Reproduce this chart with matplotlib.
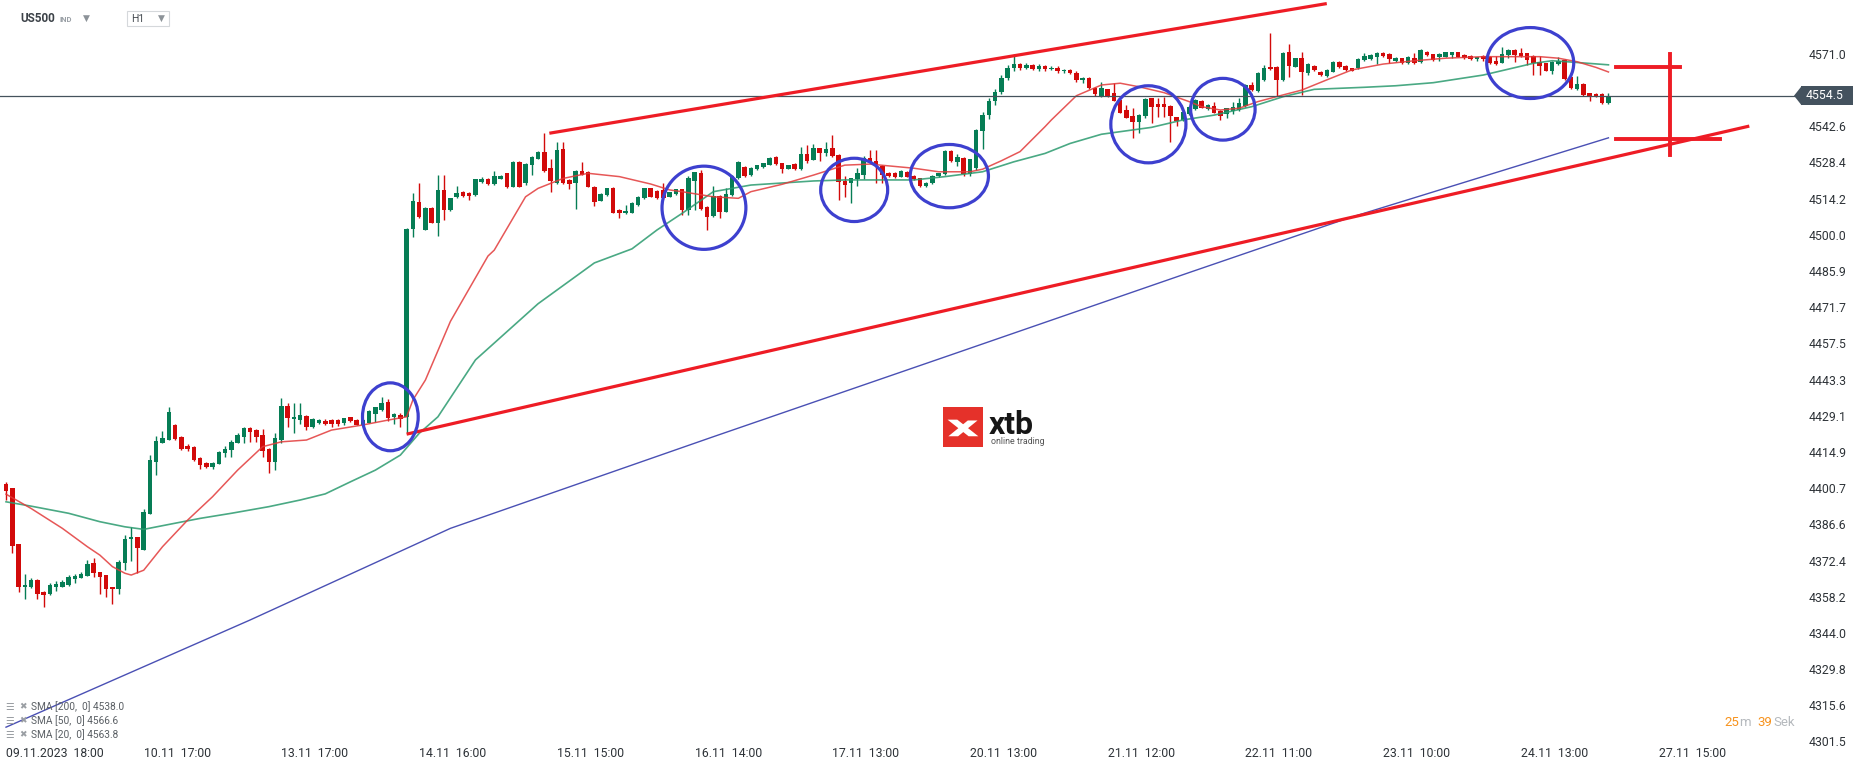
import numpy as np
import matplotlib
matplotlib.use("Agg")
import matplotlib.pyplot as plt
from matplotlib.patches import Ellipse, Rectangle, Polygon
from matplotlib.transforms import blended_transform_factory

plt.rcParams['font.family'] = ['Roboto', 'DejaVu Sans']

# hourly candles, index 0 = 09.11.2023 18:00
opens = [4402.3, 4400.8, 4378.8, 4361.9, 4362.1, 4364.7, 4360.0, 4359.4, 4362.1, 4362.1,
         4362.9, 4365.2, 4365.5, 4366.3, 4371.4, 4367.9, 4366.7, 4362.0, 4361.3, 4371.5,
         4380.7, 4381.5, 4376.5, 4390.6, 4411.1, 4418.3, 4419.6, 4425.5, 4420.8, 4417.2,
         4417.0, 4412.5, 4410.7, 4408.9, 4410.1, 4414.6, 4415.7, 4418.5, 4420.9, 4424.3,
         4423.5, 4421.4, 4416.1, 4411.1, 4419.6, 4432.9, 4427.7, 4427.4, 4429.0, 4424.6,
         4426.4, 4427.2, 4427.4, 4427.4, 4426.2, 4428.5, 4427.4, 4425.6, 4426.4, 4429.9,
         4431.3, 4434.5, 4428.5, 4429.6, 4428.5, 4502.1, 4512.9, 4502.0, 4510.5, 4504.8,
         4517.6, 4509.7, 4515.0, 4516.8, 4516.5, 4515.6, 4520.8, 4522.0, 4519.8, 4522.0,
         4524.1, 4518.9, 4528.5, 4520.2, 4527.2, 4529.9, 4532.4, 4526.3, 4520.2, 4533.6,
         4521.5, 4520.2, 4524.9, 4524.6, 4518.9, 4513.4, 4515.6, 4518.3, 4509.7, 4508.4,
         4508.7, 4511.7, 4514.3, 4518.2, 4517.2, 4517.6, 4515.0, 4516.0, 4517.8, 4509.7,
         4521.2, 4524.2, 4510.8, 4507.4, 4515.2, 4509.1, 4515.5, 4522.1, 4526.7, 4523.3,
         4525.6, 4526.4, 4527.5, 4530.6, 4528.0, 4525.9, 4527.7, 4525.9, 4531.7, 4529.3,
         4533.9, 4531.9, 4533.9, 4531.3, 4521.2, 4520.4, 4521.7, 4523.4, 4530.0, 4529.0,
         4527.0, 4524.3, 4524.3, 4522.8, 4524.7, 4523.2, 4522.1, 4519.2, 4520.4, 4522.9,
         4523.8, 4532.8, 4528.5, 4530.0, 4523.8, 4526.0, 4540.5, 4547.0, 4552.5, 4556.0,
         4561.5, 4565.5, 4567.0, 4565.5, 4566.5, 4565.0, 4566.0, 4565.0, 4565.5, 4564.0,
         4564.5, 4563.5, 4560.5, 4561.5, 4557.5, 4554.4, 4557.0, 4555.7, 4552.8, 4548.9,
         4546.5, 4544.3, 4546.5, 4553.5, 4551.2, 4551.2, 4550.5, 4546.0, 4545.0, 4547.3,
         4549.3, 4552.4, 4549.3, 4550.5, 4548.5, 4547.3, 4548.6, 4548.9, 4550.5, 4558.6,
         4556.3, 4560.7, 4565.6, 4565.6, 4560.7, 4571.8, 4565.9, 4569.1, 4563.3, 4566.1,
         4563.9, 4562.2, 4563.9, 4567.8, 4566.1, 4565.2, 4565.2, 4568.5, 4568.9, 4569.8,
         4571.4, 4570.8, 4568.1, 4569.1, 4567.2, 4569.3, 4567.8, 4571.8, 4570.8, 4569.8,
         4569.8, 4570.5, 4571.5, 4570.5, 4570.1, 4568.8, 4570.1, 4569.8, 4568.2, 4567.5,
         4570.5, 4572.4, 4571.4, 4571.1, 4570.1, 4567.8, 4567.2, 4564.0, 4566.9, 4568.5,
         4562.0, 4557.0, 4559.1, 4555.4, 4555.2, 4555.2, 4551.5]
highs = [4403.1, 4400.8, 4378.8, 4367.1, 4365.7, 4365.0, 4360.3, 4363.5, 4364.2, 4364.6,
         4366.6, 4367.1, 4367.9, 4372.6, 4373.3, 4367.9, 4366.7, 4362.0, 4372.6, 4382.2,
         4385.4, 4381.5, 4392.4, 4413.7, 4421.2, 4423.1, 4432.4, 4426.0, 4421.0, 4418.0,
         4417.2, 4412.8, 4411.0, 4410.9, 4415.4, 4417.2, 4419.6, 4422.4, 4424.8, 4424.6,
         4423.8, 4423.8, 4416.5, 4422.4, 4435.9, 4434.0, 4434.0, 4434.0, 4429.3, 4428.1,
         4427.8, 4427.7, 4427.9, 4427.7, 4428.4, 4428.8, 4427.7, 4427.7, 4431.3, 4432.7,
         4436.3, 4435.5, 4430.1, 4430.3, 4502.8, 4516.2, 4520.2, 4510.8, 4511.0, 4523.4,
         4523.4, 4514.6, 4519.1, 4517.2, 4516.8, 4522.0, 4522.5, 4522.3, 4525.1, 4523.4,
         4524.4, 4528.8, 4528.8, 4528.0, 4530.9, 4532.9, 4539.8, 4529.9, 4536.4, 4536.4,
         4521.8, 4525.4, 4528.5, 4525.0, 4519.2, 4516.3, 4518.5, 4518.6, 4510.0, 4511.7,
         4512.9, 4515.3, 4518.5, 4518.5, 4517.5, 4520.2, 4516.9, 4518.1, 4518.1, 4523.0,
         4524.8, 4525.4, 4511.1, 4519.1, 4515.5, 4518.2, 4523.3, 4528.8, 4527.0, 4526.6,
         4527.5, 4528.3, 4530.4, 4530.9, 4528.3, 4527.5, 4528.0, 4534.3, 4535.1, 4535.6,
         4534.2, 4536.2, 4539.1, 4531.6, 4523.0, 4522.4, 4526.0, 4530.9, 4533.2, 4533.2,
         4527.3, 4524.6, 4524.6, 4525.3, 4525.0, 4523.5, 4522.4, 4520.7, 4523.3, 4524.4,
         4533.1, 4533.1, 4531.7, 4530.3, 4529.9, 4541.4, 4548.0, 4553.5, 4557.0, 4562.5,
         4566.5, 4571.0, 4567.5, 4567.5, 4567.0, 4566.8, 4566.5, 4566.2, 4566.0, 4565.0,
         4565.0, 4564.0, 4562.0, 4562.0, 4558.0, 4560.0, 4557.3, 4559.3, 4553.1, 4550.9,
         4549.6, 4547.2, 4553.6, 4553.8, 4553.5, 4554.1, 4550.8, 4546.3, 4548.5, 4550.5,
         4553.1, 4552.7, 4551.2, 4552.2, 4548.8, 4549.8, 4552.2, 4553.5, 4559.0, 4559.7,
         4563.6, 4566.4, 4579.0, 4566.0, 4571.7, 4574.8, 4569.4, 4571.8, 4567.2, 4566.4,
         4564.2, 4564.9, 4568.1, 4568.1, 4566.4, 4565.5, 4569.1, 4571.1, 4570.8, 4571.7,
         4571.7, 4571.1, 4569.7, 4569.4, 4570.1, 4571.4, 4572.7, 4572.1, 4571.0, 4571.1,
         4571.8, 4571.8, 4571.8, 4570.8, 4570.4, 4569.8, 4570.4, 4570.1, 4570.1, 4573.5,
         4572.7, 4572.9, 4573.1, 4571.4, 4570.4, 4570.1, 4567.5, 4568.1, 4569.8, 4568.8,
         4562.3, 4562.2, 4559.4, 4555.7, 4555.5, 4555.5, 4555.7]
lows = [4396.0, 4375.4, 4360.1, 4357.4, 4361.8, 4357.2, 4354.3, 4359.0, 4360.5, 4362.0,
        4362.6, 4363.7, 4365.5, 4366.3, 4366.0, 4359.3, 4358.2, 4355.3, 4359.3, 4368.6,
        4372.3, 4367.6, 4376.5, 4390.6, 4405.9, 4418.3, 4419.6, 4419.5, 4415.5, 4415.4,
        4411.5, 4408.1, 4408.5, 4408.1, 4410.1, 4413.0, 4412.8, 4418.5, 4418.5, 4418.8,
        4418.9, 4412.8, 4406.8, 4407.8, 4418.3, 4424.8, 4422.2, 4425.9, 4423.5, 4424.3,
        4426.0, 4425.3, 4424.8, 4425.0, 4425.3, 4426.5, 4425.3, 4425.3, 4426.1, 4426.8,
        4431.0, 4427.2, 4425.9, 4424.6, 4422.2, 4499.3, 4506.5, 4501.9, 4504.5, 4499.5,
        4505.8, 4509.5, 4514.3, 4514.9, 4513.6, 4515.3, 4520.2, 4519.6, 4519.6, 4521.8,
        4518.2, 4518.6, 4518.6, 4519.5, 4523.6, 4529.6, 4524.8, 4516.6, 4520.0, 4520.1,
        4517.8, 4510.2, 4523.3, 4518.6, 4511.3, 4513.1, 4515.3, 4508.4, 4506.6, 4508.1,
        4508.4, 4511.4, 4514.0, 4514.7, 4514.0, 4514.0, 4514.7, 4515.7, 4507.8, 4507.8,
        4509.7, 4509.9, 4501.9, 4506.8, 4506.5, 4508.8, 4515.2, 4521.8, 4522.7, 4523.0,
        4525.3, 4526.1, 4527.2, 4527.3, 4524.1, 4525.6, 4525.3, 4525.4, 4528.0, 4529.3,
        4529.0, 4530.9, 4530.6, 4513.6, 4514.7, 4512.6, 4519.1, 4521.7, 4528.1, 4520.2,
        4520.2, 4522.7, 4522.2, 4522.5, 4522.5, 4521.6, 4518.9, 4518.9, 4520.1, 4522.6,
        4523.5, 4528.7, 4527.0, 4523.0, 4523.0, 4525.4, 4533.5, 4545.5, 4551.0, 4555.0,
        4560.5, 4564.0, 4564.5, 4565.0, 4564.5, 4564.0, 4564.0, 4564.5, 4563.5, 4563.5,
        4563.0, 4560.0, 4559.5, 4557.0, 4554.5, 4554.0, 4554.1, 4552.3, 4547.6, 4545.6,
        4537.8, 4540.0, 4545.6, 4543.9, 4546.0, 4546.3, 4536.5, 4542.6, 4544.7, 4547.0,
        4549.0, 4549.5, 4549.0, 4547.6, 4545.0, 4545.6, 4547.3, 4548.6, 4550.2, 4556.4,
        4556.0, 4560.4, 4564.5, 4554.4, 4560.4, 4562.0, 4565.6, 4554.8, 4562.6, 4564.3,
        4562.3, 4561.9, 4563.6, 4565.3, 4564.3, 4564.0, 4564.9, 4568.2, 4568.6, 4566.9,
        4569.8, 4567.2, 4567.8, 4566.9, 4566.9, 4567.1, 4567.5, 4570.2, 4568.2, 4568.2,
        4569.5, 4569.3, 4569.5, 4568.9, 4568.5, 4568.2, 4568.2, 4566.9, 4566.6, 4567.2,
        4569.2, 4567.8, 4569.8, 4566.5, 4562.5, 4562.5, 4564.0, 4563.0, 4566.6, 4560.6,
        4557.1, 4556.7, 4554.5, 4552.5, 4554.1, 4551.2, 4551.2]
closes = [4399.7, 4378.1, 4361.9, 4362.7, 4364.7, 4359.4, 4359.0, 4362.7, 4363.2, 4364.0,
          4365.8, 4366.3, 4367.1, 4371.0, 4367.6, 4366.0, 4361.3, 4361.1, 4371.8, 4380.8,
          4381.5, 4377.3, 4391.4, 4411.8, 4419.2, 4420.4, 4430.6, 4420.0, 4416.1, 4416.1,
          4411.8, 4409.8, 4409.1, 4410.6, 4414.9, 4416.2, 4418.9, 4421.7, 4424.3, 4422.7,
          4420.9, 4415.4, 4411.1, 4420.4, 4432.9, 4428.1, 4428.6, 4429.4, 4424.8, 4427.8,
          4427.4, 4425.9, 4425.9, 4425.9, 4428.1, 4426.9, 4425.6, 4427.4, 4430.8, 4432.4,
          4434.2, 4428.2, 4429.8, 4427.9, 4502.1, 4513.2, 4506.8, 4510.5, 4504.8, 4517.6,
          4509.7, 4514.3, 4516.5, 4515.2, 4515.2, 4521.7, 4521.7, 4519.9, 4523.0, 4523.0,
          4518.9, 4528.5, 4518.9, 4527.7, 4530.6, 4532.6, 4525.1, 4521.2, 4533.2, 4520.4,
          4519.9, 4525.1, 4523.6, 4518.9, 4513.0, 4516.0, 4518.2, 4508.7, 4508.4, 4509.3,
          4512.6, 4515.0, 4518.2, 4515.0, 4514.3, 4514.3, 4516.6, 4517.8, 4509.7, 4522.4,
          4524.5, 4510.2, 4507.1, 4515.2, 4509.1, 4516.0, 4523.0, 4528.5, 4523.0, 4526.3,
          4527.2, 4528.0, 4530.1, 4527.6, 4525.9, 4527.2, 4525.6, 4531.7, 4529.0, 4533.9,
          4532.2, 4533.6, 4531.0, 4520.8, 4519.5, 4522.1, 4524.1, 4530.0, 4528.4, 4527.3,
          4523.4, 4523.0, 4522.5, 4525.0, 4522.8, 4521.9, 4519.2, 4520.4, 4523.0, 4524.1,
          4532.8, 4529.0, 4530.4, 4523.8, 4529.6, 4541.1, 4547.0, 4552.5, 4556.0, 4561.5,
          4565.5, 4567.0, 4565.5, 4566.5, 4565.0, 4566.0, 4565.0, 4565.5, 4564.0, 4564.5,
          4563.5, 4560.5, 4561.5, 4557.5, 4555.0, 4557.4, 4554.4, 4552.6, 4547.9, 4545.9,
          4544.3, 4546.9, 4553.3, 4550.2, 4550.2, 4550.2, 4546.5, 4544.7, 4548.2, 4550.2,
          4552.8, 4549.8, 4550.9, 4547.9, 4546.5, 4549.5, 4550.2, 4551.8, 4558.7, 4556.7,
          4563.3, 4565.2, 4564.8, 4560.7, 4571.4, 4566.1, 4569.1, 4563.9, 4566.9, 4564.6,
          4562.6, 4564.6, 4567.8, 4565.6, 4564.6, 4564.3, 4568.8, 4570.1, 4570.5, 4571.4,
          4570.1, 4568.8, 4569.4, 4567.2, 4569.8, 4567.4, 4572.4, 4570.5, 4568.5, 4570.8,
          4571.5, 4571.5, 4569.8, 4569.2, 4568.8, 4569.5, 4568.8, 4567.2, 4566.9, 4570.8,
          4572.4, 4570.5, 4570.1, 4568.5, 4567.5, 4566.3, 4564.3, 4567.8, 4568.0, 4560.9,
          4557.4, 4559.1, 4554.8, 4554.4, 4554.4, 4551.5, 4554.5]

# moving averages (candle index, value)
sma20_idx = [0, 4, 9, 13, 15, 17, 19, 20, 22, 25, 29, 33, 37, 41, 44, 48, 52, 57, 61, 64,
             65, 67, 71, 77, 78, 83, 85, 89, 93, 98, 103, 106, 108, 113, 117, 119, 124, 129, 134, 138,
             145, 149, 154, 156, 159, 162, 166, 167, 171, 175, 178, 181, 185, 189, 191, 194, 197, 200, 204, 207,
             211, 215, 220, 225, 230, 236, 241, 245, 248, 251, 254, 256]
sma20_val = [4398.4, 4392.8, 4385.0, 4377.8, 4374.5, 4370.0, 4367.4, 4366.7, 4368.6, 4377.8,
             4388.2, 4397.4, 4407.8, 4417.0, 4418.9, 4419.6, 4423.5, 4425.5, 4427.4, 4428.7,
             4435.3, 4443.1, 4466.1, 4491.7, 4494.0, 4514.9, 4518.2, 4522.1, 4524.1, 4522.8,
             4519.9, 4517.6, 4516.9, 4514.9, 4514.3, 4516.9, 4519.8, 4523.4, 4527.3, 4527.7,
             4526.1, 4524.7, 4524.7, 4525.7, 4529.0, 4532.6, 4542.4, 4545.0, 4554.5, 4558.7,
             4559.4, 4558.0, 4555.7, 4552.2, 4550.2, 4548.9, 4549.6, 4552.2, 4554.8, 4556.7,
             4560.7, 4564.6, 4566.9, 4568.2, 4569.2, 4569.8, 4569.8, 4569.8, 4569.2, 4567.8,
             4565.6, 4563.8]
sma50_idx = [0, 4, 10, 15, 19, 22, 27, 31, 36, 42, 47, 51, 55, 59, 63, 66, 69, 75, 85, 94,
             100, 104, 108, 113, 119, 124, 129, 134, 145, 150, 156, 161, 166, 170, 175, 183, 188, 193, 199, 204,
             209, 217, 222, 228, 236, 244, 247, 250, 256]
sma50_val = [4395.4, 4393.7, 4390.9, 4387.6, 4385.6, 4384.6, 4387.0, 4388.9, 4390.9, 4393.5,
             4396.1, 4398.5, 4403.2, 4407.8, 4413.7, 4422.2, 4428.7, 4451.0, 4473.0, 4489.0,
             4494.5, 4501.9, 4508.4, 4516.9, 4519.5, 4520.3, 4521.1, 4521.5, 4521.5, 4522.8,
             4524.7, 4528.6, 4531.9, 4535.8, 4539.4, 4542.1, 4545.0, 4546.9, 4550.2, 4554.1,
             4557.0, 4557.8, 4558.4, 4559.6, 4562.6, 4567.2, 4568.2, 4567.7, 4566.6]
sma200_idx = [0, 39, 71, 113, 151, 189, 214, 256]
sma200_val = [4307.1, 4349.1, 4385.0, 4420.9, 4453.0, 4485.2, 4506.2, 4538.0]

last_price = 4554.5
legend_labels = ['SMA [200,  0] 4538.0', 'SMA [50,  0] 4566.6', 'SMA [20,  0] 4563.8']

tick_idx = [0, 22, 44, 66, 88, 110, 132, 154, 176, 198, 220, 242, 264]
tick_labels = ['09.11.2023  18:00', '10.11  17:00', '13.11  17:00', '14.11  16:00', '15.11  15:00',
               '16.11  14:00', '17.11  13:00', '20.11  13:00', '21.11  12:00', '22.11  11:00',
               '23.11  10:00', '24.11  13:00', '27.11  15:00']
yticks = [4301.5, 4315.6, 4329.8, 4344.0, 4358.2, 4372.4, 4386.6, 4400.7, 4414.9, 4429.1,
          4443.3, 4457.5, 4471.7, 4485.9, 4500.0, 4514.2, 4528.4, 4542.6, 4556.8, 4571.0]

# hand drawn annotations (candle index, price)
upper_trend = ([86.8, 211.0], [4539.8, 4590.6])
lower_trend = ([64.0, 278.5], [4421.9, 4542.6])
circles = [(61.4, 4428.7, 8.9, 26.6), (111.5, 4510.6, 13.4, 32.6), (135.5, 4517.6, 10.7, 24.8),
           (150.7, 4523.0, 12.5, 24.8), (182.5, 4543.3, 12.0, 30.2), (194.4, 4549.2, 10.3, 24.2),
           (243.5, 4567.3, 13.9, 27.8)]

W, H = 1866, 767
fig = plt.figure(figsize=(W / 100, H / 100), dpi=100)


def fx(px):
    return px / W


def fy(py):
    return 1 - py / H


ax = fig.add_axes([0, fy(743), fx(1800), 743 / H])
ax.set_xlim(-0.96, 286.6)
ax.set_ylim(4300.9, 4592.0)
for s in ax.spines.values():
    s.set_visible(False)

GREEN = '#067d55'
RED = '#d20a0a'
o = np.array(opens)
c = np.array(closes)
hi = np.maximum(np.array(highs), np.maximum(o, c))
lo = np.minimum(np.array(lows), np.minimum(o, c))
x = np.arange(len(o))
cols = np.where(c >= o, GREEN, RED)
ax.vlines(x, lo, hi, colors=cols, lw=1.0, zorder=2)
body = np.maximum(np.abs(c - o), 0.4)
ax.bar(x, body, bottom=np.minimum(o, c), width=0.72, color=cols, linewidth=0, zorder=3)

ax.plot(sma200_idx, sma200_val, color='#4a50b4', lw=1.0, zorder=4)
ax.plot(sma50_idx, sma50_val, color='#2a9a6e', lw=1.2, alpha=0.85, zorder=4)
ax.plot(sma20_idx, sma20_val, color='#e23a3a', lw=1.1, alpha=0.85, zorder=4)

ax.axhline(last_price, color='#45525c', lw=0.9, zorder=4)

red_ann = '#ee1c25'
ax.plot(*upper_trend, color=red_ann, lw=2.3, zorder=6, solid_capstyle='butt')
ax.plot(*lower_trend, color=red_ann, lw=2.3, zorder=6, solid_capstyle='butt')
ax.plot([265.8, 265.8], [4571.0, 4531.3], color=red_ann, lw=2.8, zorder=6, clip_on=False)
ax.plot([257.2, 267.4], [4565.6, 4565.6], color=red_ann, lw=2.8, zorder=6)
ax.plot([257.2, 273.8], [4537.5, 4537.5], color=red_ann, lw=2.8, zorder=6)

for cx, cy, w, h in circles:
    ax.add_patch(Ellipse((cx, cy), w, h, fill=False, ec='#3d40cf', lw=2.3, zorder=7))

# axes ticks
ax.yaxis.tick_right()
ax.set_yticks(yticks)
ax.set_yticklabels(['%.1f' % v for v in yticks])
ax.tick_params(axis='y', length=0, pad=6, labelsize=8.8, labelcolor='#2e3338')
ax.set_xticks(tick_idx)
ax.set_xticklabels(tick_labels)
ax.tick_params(axis='x', length=0, pad=3, labelsize=8.8, labelcolor='#2e3338')
for lab in ax.get_xticklabels():
    lab.set_ha('left')

# price tag (covers the 4556.8 label as in the platform)
bt = blended_transform_factory(ax.transAxes, ax.transData)
ax.add_patch(Rectangle((1801 / 1800, last_price - 3.7), 52 / 1800, 7.4, transform=bt,
                       fc='#44525e', ec='none', clip_on=False, zorder=8))
ax.add_patch(Polygon([(1794 / 1800, last_price), (1801.5 / 1800, last_price + 3.7),
                      (1801.5 / 1800, last_price - 3.7)], closed=True, transform=bt,
                     fc='#44525e', ec='none', clip_on=False, zorder=8))
ax.text(1806 / 1800, last_price, '%.1f' % last_price, transform=bt, color='white',
        fontsize=8.8, va='center', ha='left', zorder=9)

# header
fig.text(fx(20), fy(19), 'US500', fontsize=8.5, weight='bold', color='#3c4248', va='center')
fig.text(fx(60), fy(19), 'IND', fontsize=5.5, weight='bold', color='#9aa0a6', va='center')
fig.text(fx(86), fy(18), '▼', fontsize=6.5, color='#8c9298', va='center', ha='center',
         family='DejaVu Sans')
fig.add_artist(Rectangle((fx(127), fy(25.5)), fx(42), 14.5 / H, transform=fig.transFigure,
                         fc='white', ec='#d5d8db', lw=0.8))
fig.text(fx(131), fy(19), 'H1', fontsize=7.5, color='#444a50', va='center')
fig.text(fx(161.5), fy(18), '▼', fontsize=6.5, color='#8c9298', va='center', ha='center',
         family='DejaVu Sans')

# indicator legend
for i, lab in enumerate(legend_labels):
    yy = fy(707 + 14 * i)
    fig.text(fx(5), yy, '☰', fontsize=7, color='#9a9ea3', va='center', family='DejaVu Sans')
    fig.text(fx(19), yy, '✖', fontsize=6.5, color='#9a9ea3', va='center', family='DejaVu Sans')
    fig.text(fx(31), yy, lab, fontsize=7.3, color='#5a5f64', va='center')

# countdown
fig.text(fx(1724), fy(722), '25', fontsize=9.5, color='#f7931e', va='center')
fig.text(fx(1739), fy(722), 'm', fontsize=9.5, color='#b5b9bd', va='center')
fig.text(fx(1757), fy(722), '39', fontsize=9.5, color='#f7931e', va='center')
fig.text(fx(1773), fy(722), 'Sek', fontsize=9.5, color='#b5b9bd', va='center')

# watermark logo
sq_x, sq_y, sq = 942.7, 406.7, 40.5
fig.add_artist(Rectangle((fx(sq_x), fy(sq_y + sq)), fx(sq), sq / H, transform=fig.transFigure,
                         fc='#e5312a', ec='none'))


def lp(px, py):
    return (fx(sq_x + px * sq), fy(sq_y + (1 - py) * sq))


fig.add_artist(Polygon([lp(0.12, 0.68), lp(0.36, 0.68), lp(0.88, 0.27), lp(0.64, 0.27)],
                       transform=fig.transFigure, fc='white', ec='none'))
fig.add_artist(Polygon([lp(0.14, 0.27), lp(0.38, 0.27), lp(0.86, 0.66), lp(0.62, 0.66)],
                       transform=fig.transFigure, fc='white', ec='none'))
fig.text(fx(989), fy(433.5), 'xtb', fontsize=23, weight='bold', color='#161616', va='baseline')
fig.text(fx(990.5), fy(442), 'online trading', fontsize=6.4, color='#555555', va='center')

fig.savefig('out.png', dpi=100, facecolor='white')
